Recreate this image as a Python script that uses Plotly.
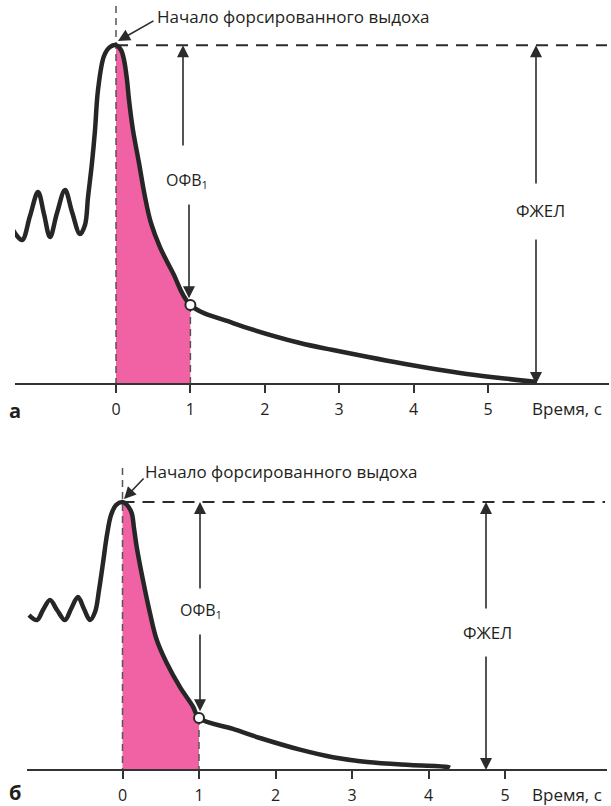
import plotly.graph_objects as go

FONT = "Open Sans"
INK = "#231f20"
CURVE = "#262626"
PINK = "#f062a3"

# ---------------- panel "а" ----------------
# tidal breathing and the maximal inspiration before the forced expiration (t <= 0)
a_pre_t = [-1.384, -1.263, -1.156, -1.048, -0.968, -0.887, -0.793, -0.685, -0.591,
           -0.484, -0.417, -0.376, -0.323, -0.282, -0.242, -0.161, -0.081, 0.0]
a_pre_v = [2.045, 1.912, 2.231, 2.550, 2.258, 1.952, 2.271, 2.576, 2.284,
           1.992, 2.112, 2.483, 2.935, 3.373, 3.904, 4.356, 4.475, 4.50]
# forced expiration (t >= 0), volume above residual level, L
a_exp_t = [0.0, 0.067, 0.108, 0.148, 0.175, 0.228, 0.309, 0.390, 0.470, 0.591,
           0.766, 1.0, 1.573, 2.473, 2.917, 3.965, 4.624, 5.161, 5.659]
a_exp_v = [4.50, 4.436, 4.303, 4.037, 3.772, 3.373, 2.935, 2.483, 2.138, 1.819,
           1.474, 1.049, 0.81, 0.544, 0.452, 0.252, 0.146, 0.080, 0.027]

# ---------------- panel "б" ----------------
b_pre_t = [-1.222, -1.118, -1.039, -0.948, -0.856, -0.752, -0.673, -0.582, -0.503,
           -0.425, -0.359, -0.307, -0.255, -0.203, -0.150, -0.085, 0.0]
b_pre_v = [2.058, 1.992, 2.125, 2.258, 2.125, 1.992, 2.138, 2.297, 2.138,
           1.992, 2.098, 2.390, 2.749, 3.121, 3.386, 3.519, 3.559]
b_exp_t = [0.0, 0.059, 0.12, 0.150, 0.186, 0.268, 0.359, 0.447, 0.578, 0.752,
           0.922, 1.0, 1.444, 1.797, 2.32, 2.75, 3.2, 3.76, 4.25, 4.28]
b_exp_v = [3.559, 3.519, 3.413, 3.214, 2.96, 2.52, 2.085, 1.73, 1.42, 1.10,
           0.84, 0.69, 0.545, 0.425, 0.27, 0.17, 0.106, 0.066, 0.04, 0.03]

tick_vals = [0, 1, 2, 3, 4, 5]
tick_text = ["0", "1", "2", "3", "4", "5"]
fev_time = 1.0

label_start = "Начало форсированного выдоха"
label_fev1 = "ОФВ<sub>1</sub>"
label_fvc = "ФЖЕЛ"
label_time = "Время, с"

W, H = 611, 806


def frac_y(py):
    return 1 - py / H


# pixel geometry of the two panels: origin of time, px per second, baseline, px per litre
PANELS = {
    "a": dict(t0=116.0, sx=74.4, base=384.0, sy=75.3, xdom=(15, 609), ydom=(0, 440)),
    "b": dict(t0=122.5, sx=76.5, base=770.0, sy=75.3, xdom=(27, 607), ydom=(440, 806)),
}

fig = go.Figure()


def add_panel(key, xa, ya, pre_t, pre_v, exp_t, exp_v, arrows, letter_y):
    g = PANELS[key]
    xr = f"x{'' if xa == 1 else xa}"
    yr = f"y{'' if ya == 1 else ya}"
    fvc = exp_v[0]
    i1 = exp_t.index(fev_time)
    v1 = exp_v[i1]

    # shaded volume exhaled during the first second
    fig.add_trace(go.Scatter(
        x=exp_t[: i1 + 2], y=exp_v[: i1 + 2], mode="lines",
        line=dict(width=0, shape="spline", smoothing=1.0, color=PINK),
        fill="tozeroy", fillcolor=PINK, xaxis=xr, yaxis=yr, hoverinfo="skip"))
    # white mask right of the 1 s mark (keeps the shading inside 0..1 s)
    fig.add_trace(go.Scatter(
        x=[fev_time, exp_t[i1 + 1] + 0.05], y=[fvc, fvc], mode="lines",
        line=dict(width=0), fill="tozeroy", fillcolor="white",
        xaxis=xr, yaxis=yr, hoverinfo="skip"))

    # dashed guides: start of the expiration, the 1 s mark and the maximal volume level
    t_max = (g["xdom"][1] - 2 - g["t0"]) / g["sx"]
    top_v = (g["base"] - (g["ydom"][0] + 6 if key == "a" else 468)) / g["sy"]
    fig.add_trace(go.Scatter(
        x=[0, 0], y=[top_v, 0], mode="lines",
        line=dict(color="#555555", width=1.5, dash="7px,5px"),
        xaxis=xr, yaxis=yr, hoverinfo="skip"))
    fig.add_trace(go.Scatter(
        x=[fev_time, fev_time], y=[v1, 0], mode="lines",
        line=dict(color="#555555", width=1.5, dash="7px,5px"),
        xaxis=xr, yaxis=yr, hoverinfo="skip"))
    fig.add_trace(go.Scatter(
        x=[0, t_max], y=[fvc, fvc], mode="lines",
        line=dict(color="#2b2b2b", width=2, dash="12px,8px"),
        xaxis=xr, yaxis=yr, hoverinfo="skip"))

    # spirogram
    fig.add_trace(go.Scatter(
        x=pre_t + exp_t[1:], y=pre_v + exp_v[1:], mode="lines",
        line=dict(color=CURVE, width=4.5, shape="spline", smoothing=1.0),
        xaxis=xr, yaxis=yr, hoverinfo="skip"))
    # volume after the first second
    fig.add_trace(go.Scatter(
        x=[fev_time], y=[v1], mode="markers",
        marker=dict(size=10, color="white", line=dict(color=CURVE, width=2)),
        xaxis=xr, yaxis=yr, hoverinfo="skip"))

    def arrow(x, y, ax, ay):
        fig.add_annotation(x=x, y=y, ax=ax, ay=ay, xref=xr, yref=yr,
                           axref=xr, ayref=yr, text="", showarrow=True,
                           arrowhead=2, arrowsize=1.5, arrowwidth=1.6,
                           arrowcolor="#2b2b2b", standoff=0)

    def label(x, y, text, anchor="center", size=16):
        fig.add_annotation(x=x, y=y, xref=xr, yref=yr, text=text, showarrow=False,
                           xanchor=anchor, yanchor="middle",
                           font=dict(family=FONT, size=size, color=INK))

    ar = arrows
    # FEV1 pair
    arrow(ar["fev_up_t"], fvc, ar["fev_up_t"], ar["fev_up_tail"])
    arrow(ar["fev_dn_t"], v1 + 0.09, ar["fev_dn_t"], ar["fev_dn_tail"])
    label(ar["fev_lab"][0], ar["fev_lab"][1], label_fev1, size=16)
    # FVC pair
    arrow(ar["fvc_t"], fvc, ar["fvc_t"], ar["fvc_up_tail"])
    arrow(ar["fvc_t"], 0, ar["fvc_t"], ar["fvc_dn_tail"])
    label(ar["fvc_lab"][0], ar["fvc_lab"][1], label_fvc, size=17)
    # pointer to the start of the forced expiration
    arrow(ar["ptr_head"][0], ar["ptr_head"][1], ar["ptr_tail"][0], ar["ptr_tail"][1])
    label(ar["start_lab"][0], ar["start_lab"][1], label_start, anchor="left", size=17)

    # time axis
    xkey = "xaxis" if xa == 1 else f"xaxis{xa}"
    ykey = "yaxis" if ya == 1 else f"yaxis{ya}"
    x0p, x1p = g["xdom"]
    y0p, y1p = g["ydom"]
    fig.update_layout({
        xkey: dict(
            domain=[x0p / W, x1p / W],
            range=[(x0p - g["t0"]) / g["sx"], (x1p - g["t0"]) / g["sx"]],
            anchor="free", position=frac_y(g["base"]),
            showline=True, linecolor="#333333", linewidth=2,
            ticks="outside", ticklen=8, tickwidth=2, tickcolor="#333333",
            tickvals=tick_vals, ticktext=tick_text, ticklabelstandoff=3,
            tickfont=dict(family=FONT, size=16, color=INK),
            showgrid=False, zeroline=False, fixedrange=True),
        ykey: dict(
            domain=[frac_y(y1p), frac_y(y0p)],
            range=[(g["base"] - y1p) / g["sy"], (g["base"] - y0p) / g["sy"]],
            visible=False, fixedrange=True, anchor=xr),
    })

    # axis name and panel letter
    fig.add_annotation(x=567 / W, y=frac_y(g["base"] + 24), xref="paper", yref="paper",
                       text=label_time, showarrow=False, xanchor="center", yanchor="middle",
                       font=dict(family=FONT, size=17, color=INK))
    fig.add_annotation(x=15 / W, y=frac_y(letter_y), xref="paper", yref="paper",
                       text="<b>" + ("а" if key == "a" else "б") + "</b>", showarrow=False,
                       xanchor="center", yanchor="middle",
                       font=dict(family=FONT, size=20, color=INK))


def tx(key, px):
    g = PANELS[key]
    return (px - g["t0"]) / g["sx"]


def vy(key, py):
    g = PANELS[key]
    return (g["base"] - py) / g["sy"]


add_panel("a", 1, 1, a_pre_t, a_pre_v, a_exp_t, a_exp_v, dict(
    fev_up_t=tx("a", 183), fev_up_tail=vy("a", 147),
    fev_dn_t=tx("a", 189), fev_dn_tail=vy("a", 203),
    fev_lab=(tx("a", 187), vy("a", 180)),
    fvc_t=tx("a", 536), fvc_up_tail=vy("a", 185), fvc_dn_tail=vy("a", 238),
    fvc_lab=(tx("a", 540), vy("a", 210)),
    ptr_tail=(tx("a", 155), vy("a", 20)), ptr_head=(tx("a", 118), vy("a", 41)),
    start_lab=(tx("a", 155), vy("a", 16)),
), letter_y=410)

add_panel("b", 2, 2, b_pre_t, b_pre_v, b_exp_t, b_exp_v, dict(
    fev_up_t=tx("b", 200), fev_up_tail=vy("b", 590),
    fev_dn_t=tx("b", 200), fev_dn_tail=vy("b", 633),
    fev_lab=(tx("b", 201), vy("b", 610)),
    fvc_t=tx("b", 486), fvc_up_tail=vy("b", 610), fvc_dn_tail=vy("b", 655),
    fvc_lab=(tx("b", 487), vy("b", 632)),
    ptr_tail=(tx("b", 145), vy("b", 477)), ptr_head=(tx("b", 124), vy("b", 499)),
    start_lab=(tx("b", 143), vy("b", 471)),
), letter_y=792)

fig.update_layout(
    width=W, height=H, margin=dict(l=0, r=0, t=0, b=0),
    paper_bgcolor="white", plot_bgcolor="rgba(0,0,0,0)",
    showlegend=False,
)

fig.write_html("out.html", config={"displayModeBar": False})
